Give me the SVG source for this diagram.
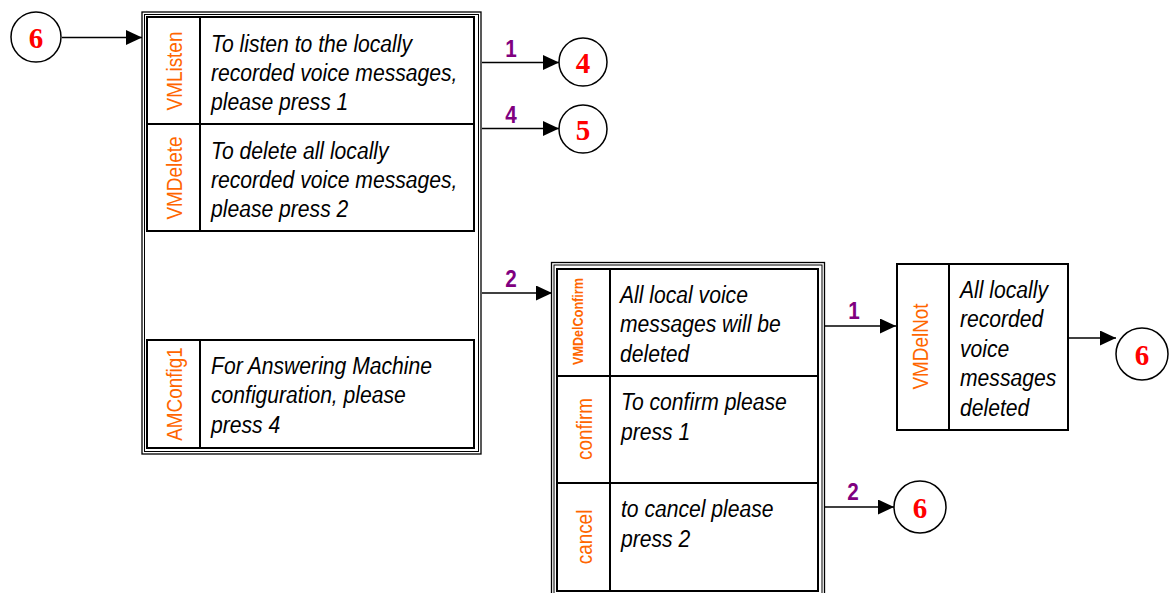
<svg xmlns="http://www.w3.org/2000/svg" width="1174" height="593" viewBox="0 0 1174 593">
<style>
.bg{fill:#fff}
.outer{fill:none;stroke:#000;stroke-width:1.3}
.inner{fill:none;stroke:#000;stroke-width:1}
.row{fill:#fff;stroke:#000;stroke-width:2}
.div{stroke:#000;stroke-width:2}
.body{font-family:"Liberation Sans",Arial,sans-serif;font-style:italic;font-size:24px;fill:#000}
.vl{font-family:"Liberation Sans",Arial,sans-serif;font-size:22px;fill:#FF6600;text-anchor:middle}
.vlb{font-family:"Liberation Sans",Arial,sans-serif;font-size:15px;font-weight:bold;fill:#FF6600;text-anchor:middle}
.num{font-family:"Liberation Sans",Arial,sans-serif;font-size:23px;font-weight:bold;fill:#800080;text-anchor:middle}
.circ{fill:#fff;stroke:#000;stroke-width:1.5}
.ct{font-family:"Liberation Serif","Times New Roman",serif;font-size:29px;font-weight:bold;fill:#FF0000;text-anchor:middle}
.conn{stroke:#000;stroke-width:1.5;fill:none;marker-end:url(#ah)}
</style>
<defs>
<marker id="ah" markerWidth="16" markerHeight="15" refX="16" refY="7.5" orient="auto" markerUnits="userSpaceOnUse">
<path d="M0,0 L16,7.5 L0,15 Z" fill="#000"/>
</marker>
</defs>
<rect class="bg" x="0" y="0" width="1174" height="593"/>

<g id="connectors">
<line class="conn" x1="62" y1="37.5" x2="142" y2="37.5"/>
<line class="conn" x1="482" y1="62.5" x2="559" y2="62.5"/>
<line class="conn" x1="482" y1="128.5" x2="559" y2="128.5"/>
<line class="conn" x1="482" y1="293" x2="552" y2="293"/>
<line class="conn" x1="825" y1="326" x2="896" y2="326"/>
<line class="conn" x1="1068" y1="338" x2="1116" y2="338"/>
<line class="conn" x1="825" y1="507" x2="894" y2="507"/>
<g transform="translate(511,57) scale(0.9,1)"><text class="num" x="0" y="0">1</text></g>
<g transform="translate(511,123) scale(0.9,1)"><text class="num" x="0" y="0">4</text></g>
<g transform="translate(511,287) scale(0.9,1)"><text class="num" x="0" y="0">2</text></g>
<g transform="translate(854,319) scale(0.9,1)"><text class="num" x="0" y="0">1</text></g>
<g transform="translate(853,500) scale(0.9,1)"><text class="num" x="0" y="0">2</text></g>
</g>

<g id="c6a"><circle class="circ" cx="36" cy="37" r="25"/><text class="ct" x="36" y="47.5">6</text></g>
<g id="c4"><circle class="circ" cx="583" cy="62" r="24"/><text class="ct" x="583" y="72.5">4</text></g>
<g id="c5"><circle class="circ" cx="583" cy="129" r="24"/><text class="ct" x="583" y="139.5">5</text></g>
<g id="c6b"><circle class="circ" cx="1142" cy="354" r="26"/><text class="ct" x="1142" y="364.5">6</text></g>
<g id="c6c"><circle class="circ" cx="920" cy="507" r="26"/><text class="ct" x="920" y="517.5">6</text></g>

<g id="menu1">
<rect class="outer" x="142" y="12" width="339" height="442"/>
<rect class="inner" x="144.5" y="14.5" width="334" height="437"/>
<g id="VMListen">
<rect class="row" x="147" y="17" width="327" height="107"/>
<line class="div" x1="200" y1="17" x2="200" y2="124"/>
<text class="vl" transform="translate(181.5,71) rotate(-90) scale(0.86,1)">VMListen</text>
<g class="body" transform="translate(211,0) scale(0.88,1)">
<text x="0" y="52">To listen to the locally</text>
<text x="0" y="81">recorded voice messages,</text>
<text x="0" y="110.5">please press 1</text>
</g>
</g>
<g id="VMDelete">
<rect class="row" x="147" y="124" width="327" height="107"/>
<line class="div" x1="200" y1="124" x2="200" y2="231"/>
<text class="vl" transform="translate(181.5,178) rotate(-90) scale(0.86,1)">VMDelete</text>
<g class="body" transform="translate(211,0) scale(0.88,1)">
<text x="0" y="159">To delete all locally</text>
<text x="0" y="188">recorded voice messages,</text>
<text x="0" y="217.5">please press 2</text>
</g>
</g>
<g id="AMConfig1">
<rect class="row" x="147" y="340" width="327" height="108"/>
<line class="div" x1="200" y1="340" x2="200" y2="448"/>
<text class="vl" transform="translate(181.5,394) rotate(-90) scale(0.86,1)">AMConfig1</text>
<g class="body" transform="translate(211,0) scale(0.88,1)">
<text x="0" y="374">For Answering Machine</text>
<text x="0" y="403.5">configuration, please</text>
<text x="0" y="433">press 4</text>
</g>
</g>
</g>

<g id="menu2">
<rect class="outer" x="551.5" y="262.5" width="273" height="336"/>
<rect class="inner" x="554" y="265" width="268" height="336"/>
<g id="VMDelConfirm">
<rect class="row" x="557" y="269" width="261" height="107"/>
<line class="div" x1="610" y1="269" x2="610" y2="376"/>
<text class="vlb" transform="translate(583,321.5) rotate(-90) scale(0.84,1)">VMDelConfirm</text>
<g class="body" transform="translate(620,0) scale(0.88,1)">
<text x="0" y="303">All local voice</text>
<text x="0" y="332.5">messages will be</text>
<text x="0" y="362">deleted</text>
</g>
</g>
<g id="confirm">
<rect class="row" x="557" y="376" width="261" height="107"/>
<line class="div" x1="610" y1="376" x2="610" y2="483"/>
<text class="vl" transform="translate(591.5,429) rotate(-90) scale(0.86,1)">confirm</text>
<g class="body" transform="translate(621,0) scale(0.88,1)">
<text x="0" y="410">To confirm please</text>
<text x="0" y="440">press 1</text>
</g>
</g>
<g id="cancel">
<rect class="row" x="557" y="483" width="261" height="108"/>
<line class="div" x1="610" y1="483" x2="610" y2="591"/>
<text class="vl" transform="translate(591.5,537) rotate(-90) scale(0.86,1)">cancel</text>
<g class="body" transform="translate(621,0) scale(0.88,1)">
<text x="0" y="517">to cancel please</text>
<text x="0" y="547">press 2</text>
</g>
</g>
</g>

<g id="VMDelNot">
<rect class="row" x="897" y="264" width="171" height="166"/>
<line class="div" x1="949" y1="264" x2="949" y2="430"/>
<text class="vl" transform="translate(928,346.5) rotate(-90) scale(0.86,1)">VMDelNot</text>
<g class="body" transform="translate(960,0) scale(0.88,1)">
<text x="0" y="298">All locally</text>
<text x="0" y="327.5">recorded</text>
<text x="0" y="357">voice</text>
<text x="0" y="386.5">messages</text>
<text x="0" y="416">deleted</text>
</g>
</g>
</svg>
